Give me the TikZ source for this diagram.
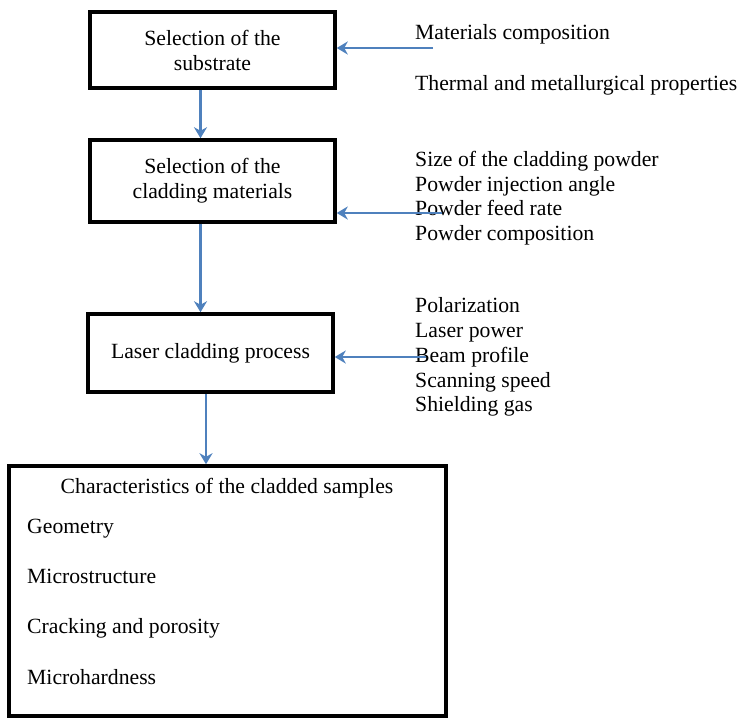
\documentclass[tikz,border=0pt]{standalone}
\usepackage{fontspec}
\setmainfont{Liberation Serif}
\usepackage{xcolor}
\usetikzlibrary{arrows.meta}
\definecolor{arrowblue}{RGB}{79,129,189}

\begin{document}
\begin{tikzpicture}[x=1pt, y=-1pt,
    every node/.style={font=\fontsize{21.7}{25}\selectfont},
    stagebox/.style={draw, line width=3.5pt, align=center, minimum width=245pt},
    factor/.style={inner sep=0pt, anchor=base west},
    flow/.style={draw=arrowblue, line width=2.5pt, -{Stealth[length=11pt, width=13pt, inset=3.5pt]}}]
    \useasboundingbox (0, 0) rectangle (743, 718);

    \node[stagebox, minimum height=76pt] at (212.5, 50) (sub) {Selection of the\\substrate};
    \node[stagebox, minimum height=82pt] at (212.5, 181) (clad) {Selection of the\\cladding materials};
    \node[stagebox, minimum height=78pt] at (210.5, 353) (laser) {Laser cladding process};
    \node[draw, line width=3.5pt, minimum width=437pt, minimum height=250pt] at (227.5, 591) (char) {};

    \node[inner sep=0pt, anchor=base] at (227, 493) (title) {Characteristics of the cladded samples};
    \node[factor] at (27, 533) (c1) {Geometry};
    \node[factor] at (27, 583) (c2) {Microstructure};
    \node[factor] at (27, 633) (c3) {Cracking and porosity};
    \node[factor] at (27, 684) (c4) {Microhardness};

    \node[factor] at (415, 39) (m1) {Materials composition};
    \node[factor] at (415, 90) (m2) {Thermal and metallurgical properties};

    \node[factor] at (415, 166) (p1) {Size of the cladding powder};
    \node[factor] at (415, 191) (p2) {Powder injection angle};
    \node[factor] at (415, 215) (p3) {Powder feed rate};
    \node[factor] at (415, 240) (p4) {Powder composition};

    \node[factor] at (415, 312) (l1) {Polarization};
    \node[factor] at (415, 337) (l2) {Laser power};
    \node[factor] at (415, 362) (l3) {Beam profile};
    \node[factor] at (415, 387) (l4) {Scanning speed};
    \node[factor] at (415, 411) (l5) {Shielding gas};

    \coordinate (ms) at (433, 48);
    \coordinate (ps) at (442, 213);
    \coordinate (ls) at (426, 357);

    \draw[flow] ([xshift=-12pt]sub.south) -- ([xshift=-12pt]sub.south |- clad.north);
    \draw[flow] ([xshift=-12pt]clad.south) -- ([xshift=-12pt]clad.south |- laser.north);
    \draw[flow] ([xshift=-4.5pt]laser.south) -- ([xshift=-4.5pt]laser.south |- char.north);

    \draw[flow] (ms) -- (ms -| sub.east);
    \draw[flow] (ps) -- (ps -| clad.east);
    \draw[flow] (ls) -- (ls -| laser.east);
\end{tikzpicture}
\end{document}
